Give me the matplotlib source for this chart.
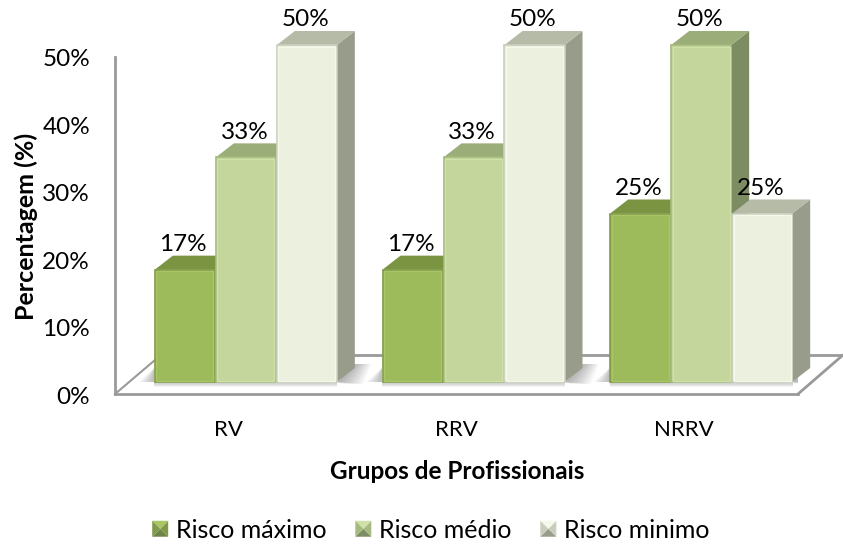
import numpy as np
import matplotlib
matplotlib.use("Agg")
import matplotlib.pyplot as plt
from matplotlib.legend_handler import HandlerBase
from matplotlib.patches import Polygon, Rectangle
from matplotlib.transforms import ScaledTranslation

# values
grupos = ["RV", "RRV", "NRRV"]
riscos = ["Risco máximo", "Risco médio", "Risco minimo"]
risco_maximo = [16.67, 16.67, 25]
risco_medio = [33.33, 33.33, 50]
risco_minimo = [50, 50, 25]
y_ticks = [0, 10, 20, 30, 40, 50]

# front, top, side colours of each series
cor_frente = ["#9DBB5A", "#C4D69B", "#EBF0DF"]
cor_topo = ["#7A9442", "#9BAD79", "#B6BBA8"]
cor_lado = ["#6F8547", "#7D8C62", "#979C8B"]
cor_borda = ["#7F9A48", "#A5BA7E", "#C9CEBB"]
cor_brilho = ["#A8C666", "#CFE0A8", "#F5F9EA"]

W, H = 843, 544
plt.rcParams["font.family"] = ["Lato", "DejaVu Sans"]
plt.rcParams["font.size"] = 15

fig = plt.figure(figsize=(W / 100, H / 100), dpi=100)
# front plane of the 3d box: x 115-798, y 57-394 in pixels
ax = fig.add_axes([115 / W, 1 - 394 / H, 683 / W, 337 / H])
ax.set_xlim(-0.5, 2.5)
ax.set_ylim(0, 50)

px = 3 / 683   # one pixel in x units
py = 50 / 337  # one pixel in y units
depth_x, depth_y = 18 * px, 14 * py
base = 12 * py
bar_w = 60 * px
bar_gap = 61 * px
shift = 17 * px

cinza = "#9A9A9A"
for s in ["top", "right"]:
    ax.spines[s].set_visible(False)
for s in ["left", "bottom"]:
    ax.spines[s].set_color(cinza)
    ax.spines[s].set_linewidth(2)

# floor of the box
fy = 39 * py
ax.plot([2.5, 2.5 + 45 * px], [0, fy], color=cinza, lw=2, clip_on=False, solid_capstyle="round")
ax.plot([-0.5, -0.5 + 40 * px], [0, 34 * py], color=cinza, lw=1.5, clip_on=False)
for x0, x1 in [(345, 383), (573, 611), (800, 843)]:
    ax.plot([(x0 - 115) * px - 0.5, (x1 - 115) * px - 0.5], [fy, fy], color=cinza, lw=2, clip_on=False)

# soft shadow on the floor, stacked see-through polygons
n_sombra = 14
for i in range(3):
    xr = i + shift + 1.5 * bar_gap
    xl = i + shift - 1.5 * bar_gap
    for k in range(1, n_sombra + 1):
        f = k / n_sombra
        ax.add_patch(Polygon([(xr, base), (xr + 18 * px, base + 18 * py),
                              (xr + (18 + 16 * f) * px, base + 18 * py), (xr + 26 * f * px, base - 2 * py)],
                             facecolor="#555555", edgecolor="none", alpha=0.035, zorder=1))
        ax.add_patch(Polygon([(xl, base), (xl, base + 14 * py), (xl - 16 * f * px, base)],
                             facecolor="#555555", edgecolor="none", alpha=0.03, zorder=1))
        ax.add_patch(Rectangle((xl, base - 5 * f * py), xr - xl, 5 * f * py,
                               facecolor="#777777", edgecolor="none", alpha=0.035, zorder=1))

series = [risco_maximo, risco_medio, risco_minimo]
for i in range(3):
    for j, vals in enumerate(series):
        v = vals[i]
        cx = i + shift + (j - 1) * bar_gap
        left, right = cx - bar_w / 2, cx + bar_w / 2
        z = 3 + j + i * 5
        top = base + v
        ax.add_patch(Polygon([(right, base), (right + depth_x, base + depth_y),
                              (right + depth_x, top + depth_y), (right, top)],
                             facecolor=cor_lado[j], edgecolor="none", zorder=z, clip_on=False))
        ax.add_patch(Polygon([(left, top), (left + depth_x, top + depth_y),
                              (right + depth_x, top + depth_y), (right, top)],
                             facecolor=cor_topo[j], edgecolor="none", zorder=z, clip_on=False))
        ax.bar(cx, v, width=bar_w, bottom=base, color=cor_frente[j], edgecolor=cor_borda[j],
               linewidth=1.2, zorder=z + 0.1, clip_on=False)
        ax.add_patch(Rectangle((left + 1.5 * px, base + 1.5 * py), bar_w - 3 * px, v - 3 * py,
                               fill=False, edgecolor=cor_brilho[j], lw=1, zorder=z + 0.2, clip_on=False))
        ax.text(cx - 1.5 * px, top + depth_y + 0.5 * py, f"{v:.0f}%", ha="center", va="bottom",
                fontsize=17.5, color="black", zorder=40, clip_on=False)

ax.set_xticks(range(3))
ax.set_xticklabels(grupos, fontsize=16)
ax.set_yticks(y_ticks)
ax.set_yticklabels([f"{t}%" for t in y_ticks], fontsize=17.5)
ax.tick_params(axis="x", length=0, pad=19)
ax.tick_params(axis="y", length=0, pad=18)
desce = ScaledTranslation(0, -1 / 100, fig.dpi_scale_trans)
for lbl in ax.get_yticklabels():
    lbl.set_transform(lbl.get_transform() + desce)
ax.set_xlabel("Grupos de Profissionais", fontweight="bold", fontsize=17.5, labelpad=14)
ax.xaxis.label.set_x((457 - 115) / 683)
ax.set_ylabel("Percentagem (%)", fontweight="bold", fontsize=18, labelpad=3)
ax.yaxis.label.set_y((394 - 226) / 337)


class HandlerPiramide(HandlerBase):
    def __init__(self, j):
        super().__init__()
        self.j = j

    def create_artists(self, legend, orig_handle, xd, yd, width, height, fontsize, trans):
        s = 11.5
        x0, y0 = (width - s) / 2 - xd, (height - s) / 2 - yd
        c = (x0 + s / 2, y0 + s / 2)
        a, b, d, e = (x0, y0), (x0 + s, y0), (x0 + s, y0 + s), (x0, y0 + s)
        arts = []
        for pts, col in [((a, b, c), cor_lado[self.j]), ((b, d, c), cor_borda[self.j]),
                         ((d, e, c), cor_brilho[self.j]), ((e, a, c), cor_borda[self.j])]:
            arts.append(Polygon(pts, facecolor=col, edgecolor="none", transform=trans))
        return arts


handles = [Rectangle((0, 0), 1, 1, color=c) for c in cor_frente]
fig.legend(handles, riscos, loc="center", bbox_to_anchor=(431 / W, 1 - 530 / H), ncol=3, frameon=False,
           fontsize=18, handlelength=0.64, handletextpad=0.32, columnspacing=1.14,
           handler_map={h: HandlerPiramide(k) for k, h in enumerate(handles)})

plt.savefig("out.png", dpi=100)
